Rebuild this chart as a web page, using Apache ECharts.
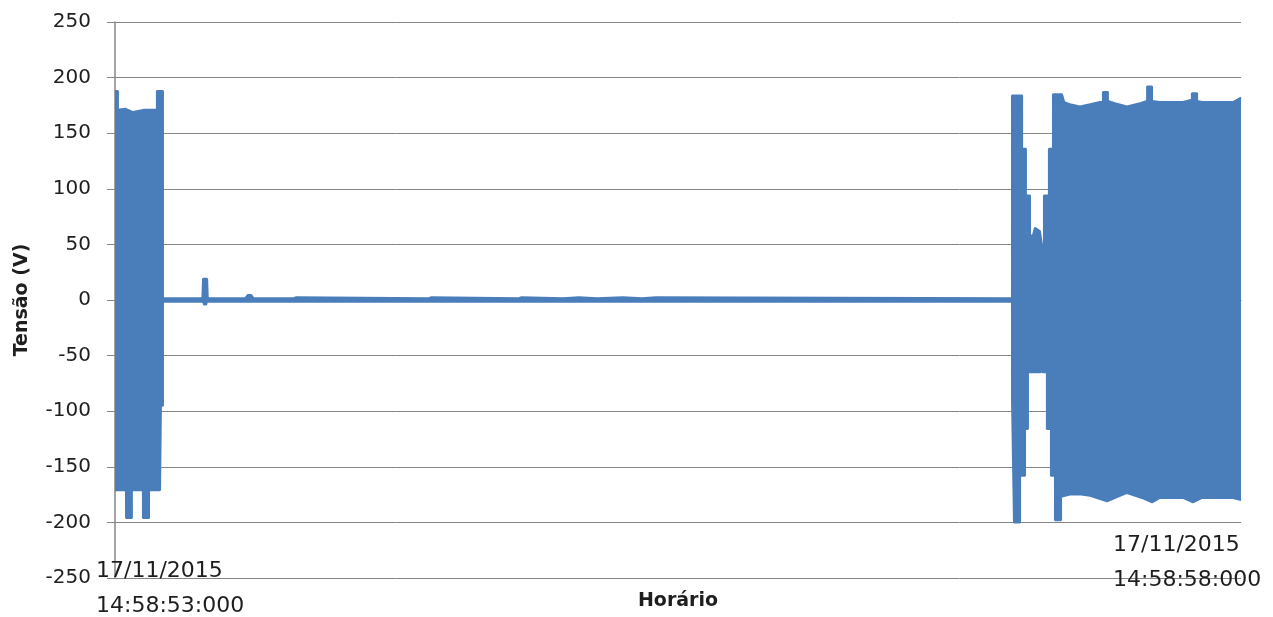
<!DOCTYPE html>
<html>
<head>
<meta charset="utf-8">
<script src="https://cdn.jsdelivr.net/npm/echarts@6/dist/echarts.min.js"></script>
<style>
html,body{margin:0;padding:0;background:#fff;}
#chart{width:1273px;height:617px;}
</style>
</head>
<body>
<div id="chart"></div>
<script>
// Time in ms from 17/11/2015 14:58:53:000 (0) to 14:58:58:000 (5000)
// Upper envelope of the voltage waveform (V)
var upperTimes = [0, 13, 13, 45, 80, 130, 186, 186, 213, 213, 388, 391, 409, 412, 578, 590, 605, 615,
  790, 795, 805, 810, 1390, 1395, 1405, 1410, 1790, 1795, 1805, 1810, 1990, 1995, 2060, 2065,
  2140, 2145, 2255, 2260, 2340, 2345, 2402, 2407, 3983, 3983, 4028, 4028, 4045, 4045, 4063, 4063,
  4076, 4085, 4107, 4116, 4125, 4125, 4147, 4147, 4165, 4165, 4205, 4215, 4240, 4285, 4330, 4374,
  4387, 4387, 4409, 4409, 4440, 4494, 4552, 4583, 4583, 4605, 4605, 4640, 4742, 4782, 4782, 4805,
  4805, 4827, 4965, 5000];
var upperValues = [188, 188, 171, 172, 169, 171, 171, 188, 188, 1.5, 1.5, 19, 19, 1.5, 1.5, 4.5, 4.5, 1.5,
  1.5, 2.5, 2.5, 1.5, 1.5, 2.5, 2.5, 1.5, 1.5, 2.5, 2.5, 1.5, 1.5, 2.5, 2.5, 1.5,
  1.5, 2.5, 2.5, 1.5, 1.5, 2.5, 2.5, 1.5, 1.5, 184, 184, 136, 136, 94, 94, 58,
  58, 65, 62, 50, 44, 94, 94, 136, 136, 185, 185, 178, 176, 174, 176, 178,
  178, 187, 187, 179, 177, 174, 177, 179, 192, 192, 179, 178, 178, 180, 186, 186,
  179, 178, 178, 182];
// Lower envelope of the voltage waveform (V)
var lowerTimes = [0, 49, 49, 75, 75, 124, 124, 151, 151, 200, 204, 213, 213, 392, 395, 405, 408,
  3983, 3983, 3992, 4019, 4019, 4041, 4041, 4054, 4054, 4110, 4114, 4118, 4138, 4138, 4156, 4156,
  4174, 4174, 4201, 4201, 4240, 4290, 4330, 4405, 4494, 4560, 4605, 4640, 4742, 4787, 4827, 4965, 5000];
var lowerValues = [-171, -171, -196, -196, -171, -171, -196, -196, -171, -171, -95, -95, -1.5, -1.5, -4, -4, -1.5,
  -1.5, -88, -200, -200, -158, -158, -116, -116, -65, -65, -57, -65, -65, -116, -116, -158,
  -158, -198, -198, -177, -175, -175, -176, -181, -173.5, -178, -182, -178, -178, -182, -178, -178, -180];
// Axis texts
var yTitle = 'Tensão (V)';
var xTitle = 'Horário';
var startLabel = '17/11/2015\n14:58:53:000';
var endLabel = '17/11/2015\n14:58:58:000';

function zip(a, b) { return a.map(function (t, i) { return [t, b[i]]; }); }

var blue = '#4a7ebb';
var grey = '#868686';
var txt = '#1e1e1e';
var font = 'DejaVu Sans';

var chart = echarts.init(document.getElementById('chart'), null, {renderer: 'canvas'});
chart.setOption({
  animation: false,
  backgroundColor: '#ffffff',
  grid: {left: 115, right: 32, top: 22, bottom: 39, containLabel: false},
  xAxis: {
    type: 'value', min: 0, max: 5000,
    name: xTitle, nameLocation: 'middle', nameGap: 14,
    nameTextStyle: {fontFamily: font, fontSize: 19, fontWeight: 'bold', color: txt},
    axisLine: {show: true, lineStyle: {color: grey, width: 1}},
    axisTick: {show: false}, axisLabel: {show: false}, splitLine: {show: false}
  },
  yAxis: {
    type: 'value', min: -250, max: 250, interval: 50,
    name: yTitle, nameLocation: 'middle', nameGap: 83,
    nameTextStyle: {fontFamily: font, fontSize: 19, fontWeight: 'bold', color: txt},
    axisLine: {show: true, onZero: false, lineStyle: {color: grey, width: 1.5}},
    axisTick: {show: true, inside: false, length: 8, lineStyle: {color: grey, width: 1}},
    axisLabel: {fontFamily: font, fontSize: 20, color: txt, margin: 24},
    splitLine: {show: true, lineStyle: {color: grey, width: 1}}
  },
  series: [
    {
      name: 'upper', type: 'line', data: zip(upperTimes, upperValues),
      symbol: 'none', silent: true,
      lineStyle: {color: blue, width: 2}, itemStyle: {color: blue},
      areaStyle: {color: blue, opacity: 1, origin: 0}
    },
    {
      name: 'lower', type: 'line', data: zip(lowerTimes, lowerValues),
      symbol: 'none', silent: true,
      lineStyle: {color: blue, width: 2}, itemStyle: {color: blue},
      areaStyle: {color: blue, opacity: 1, origin: 0}
    }
  ],
  graphic: [
    {type: 'text', left: 96, top: 554, z: 100,
      style: {text: startLabel, font: '22px "DejaVu Sans"', fill: txt, lineHeight: 35}},
    {type: 'text', left: 1113, top: 528, z: 100,
      style: {text: endLabel, font: '22px "DejaVu Sans"', fill: txt, lineHeight: 35}}
  ]
});
</script>
</body>
</html>
